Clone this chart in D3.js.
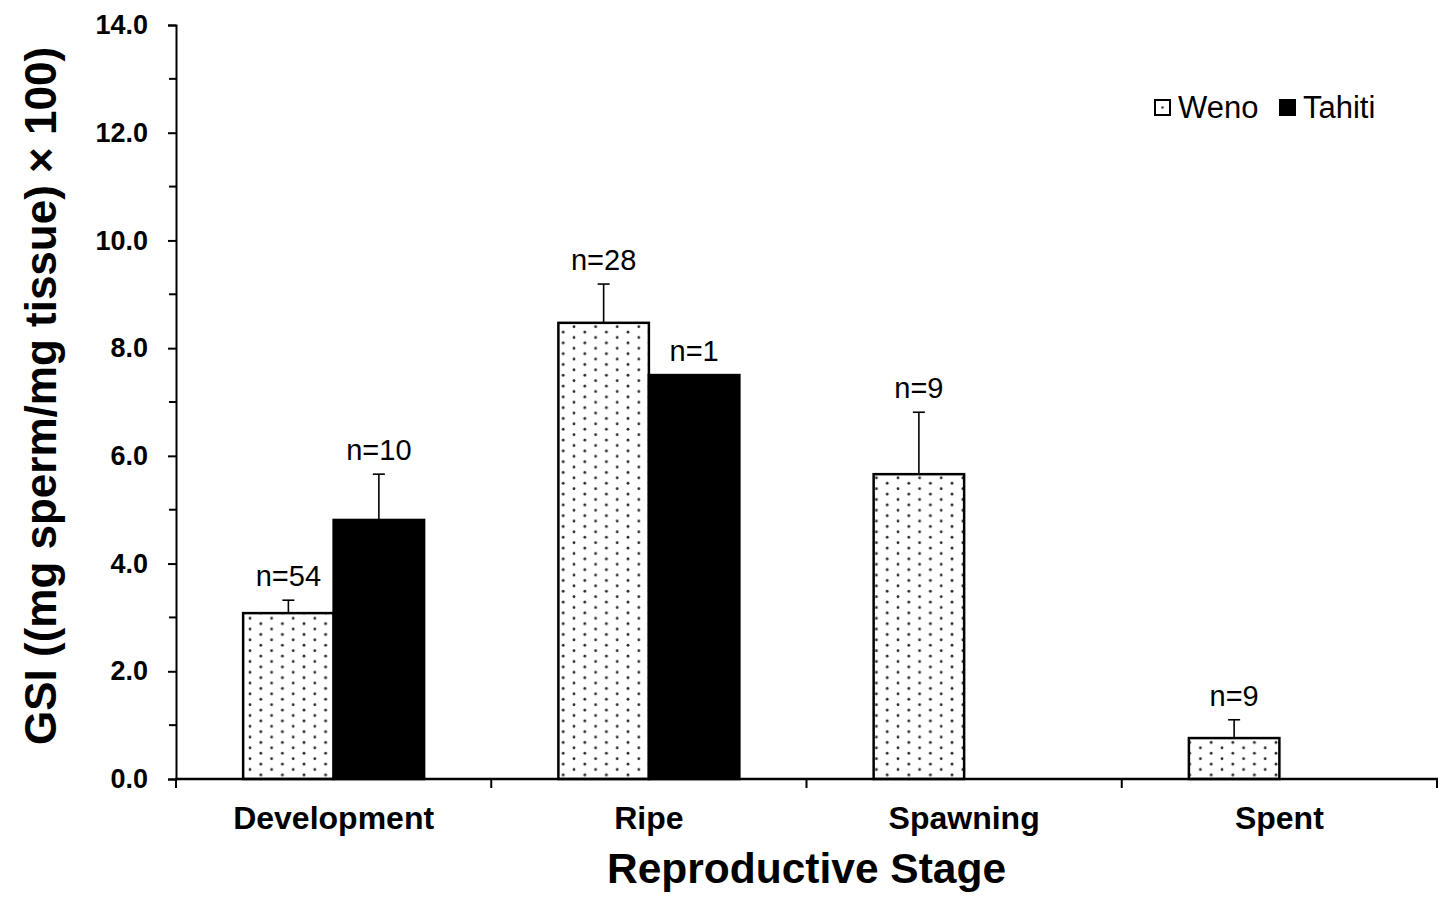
<!DOCTYPE html>
<html>
<head>
<meta charset="utf-8">
<script src="https://cdn.jsdelivr.net/npm/d3@7"></script>
<style>
  body { margin: 0; background: #fff; }
  svg { display: block; font-family: "Liberation Sans", Arial, sans-serif; }
</style>
</head>
<body>
<svg id="gsi_plot" width="1443" height="899"></svg>
<script>
// ====================== DATA ======================
const categories = ["Development", "Ripe", "Spawning", "Spent"];
const seriesNames = ["Weno", "Tahiti"];
const wenoMeans = [3.08, 8.47, 5.66, 0.76];
const wenoErr = [0.24, 0.72, 1.15, 0.34];
const wenoN = [54, 28, 9, 9];
const tahitiMeans = [4.81, 7.50, null, null];
const tahitiErr = [0.85, 0, null, null];
const tahitiN = [10, 1, null, null];
const yTicks = [0, 2, 4, 6, 8, 10, 12, 14];
const yMinorTicks = [1, 3, 5, 7, 9, 11, 13];

// ====================== LAYOUT ======================
const plotLeft = 176, plotRight = 1437, plotTop = 25, plotBottom = 779;

const svg = d3.select("#gsi_plot");

// dotted fill used by the Weno bars
const defs = svg.append("defs");
const pat = defs.append("pattern")
  .attr("id", "dots")
  .attr("patternUnits", "userSpaceOnUse")
  .attr("width", 21.6)
  .attr("height", 10.8)
  .attr("x", 250).attr("y", 0);
pat.append("rect").attr("width", 21.6).attr("height", 10.8).attr("fill", "#fff");
pat.append("circle").attr("cx", 0).attr("cy", 2.7).attr("r", 1.4).attr("fill", "#2a2a2a");
pat.append("circle").attr("cx", 21.6).attr("cy", 2.7).attr("r", 1.4).attr("fill", "#2a2a2a");
pat.append("circle").attr("cx", 10.8).attr("cy", 8.1).attr("r", 1.4).attr("fill", "#2a2a2a");

let xScale = d3.scaleBand()
  .domain(categories)
  .range([plotLeft, plotRight])
  .padding(0);

let xSub = d3.scaleBand()
  .domain(seriesNames)
  .range([0, xScale.bandwidth()])
  .paddingInner(0)
  .paddingOuter(0.742);

let yScale = d3.scaleLinear()
  .domain([0, 14])
  .range([plotBottom, plotTop]);

// build rows for each bar
let rows = [];
categories.forEach((c, i) => {
  rows.push({ cat: c, series: "Weno", mean: wenoMeans[i], err: wenoErr[i], n: wenoN[i] });
  if (tahitiMeans[i] !== null) {
    rows.push({ cat: c, series: "Tahiti", mean: tahitiMeans[i], err: tahitiErr[i], n: tahitiN[i] });
  }
});

// bars
svg.append("g")
  .selectAll("rect")
  .data(rows)
  .enter()
  .append("rect")
  .attr("x", d => xScale(d.cat) + xSub(d.series))
  .attr("y", d => yScale(d.mean))
  .attr("width", xSub.bandwidth())
  .attr("height", d => yScale(0) - yScale(d.mean))
  .attr("fill", d => d.series === "Weno" ? "url(#dots)" : "#000")
  .attr("stroke", "#000")
  .attr("stroke-width", 2.5);

// error bars (upper only)
let errRows = rows.filter(d => d.err > 0);
let errG = svg.append("g").attr("stroke", "#000").attr("stroke-width", 1.6);
errG.selectAll("line.stem")
  .data(errRows)
  .enter()
  .append("line")
  .attr("class", "stem")
  .attr("x1", d => xScale(d.cat) + xSub(d.series) + xSub.bandwidth() / 2)
  .attr("x2", d => xScale(d.cat) + xSub(d.series) + xSub.bandwidth() / 2)
  .attr("y1", d => yScale(d.mean))
  .attr("y2", d => yScale(d.mean + d.err));
errG.selectAll("line.cap")
  .data(errRows)
  .enter()
  .append("line")
  .attr("class", "cap")
  .attr("x1", d => xScale(d.cat) + xSub(d.series) + xSub.bandwidth() / 2 - 6)
  .attr("x2", d => xScale(d.cat) + xSub(d.series) + xSub.bandwidth() / 2 + 6)
  .attr("y1", d => yScale(d.mean + d.err))
  .attr("y2", d => yScale(d.mean + d.err));

// n= labels
svg.append("g")
  .selectAll("text")
  .data(rows)
  .enter()
  .append("text")
  .attr("x", d => xScale(d.cat) + xSub(d.series) + xSub.bandwidth() / 2)
  .attr("y", d => yScale(d.mean + d.err) - 14)
  .attr("text-anchor", "middle")
  .style("font-size", "29px")
  .text(d => "n=" + d.n);

// y axis
let yAxis = svg.append("g")
  .attr("transform", `translate(${plotLeft},0)`)
  .call(d3.axisLeft(yScale).tickValues(yTicks).tickFormat(d3.format(".1f")).tickSize(8).tickPadding(20));
yAxis.select(".domain").attr("stroke-width", 2);
yAxis.selectAll(".tick line").attr("stroke-width", 2);
yAxis.selectAll("text")
  .style("font-size", "27px")
  .style("font-weight", "bold")
  .attr("fill", "#000")
  .attr("font-family", null);
yAxis.append("g")
  .selectAll("line")
  .data(yMinorTicks)
  .enter()
  .append("line")
  .attr("x1", -7).attr("x2", 0)
  .attr("y1", d => yScale(d)).attr("y2", d => yScale(d))
  .attr("stroke", "#000").attr("stroke-width", 2);

// x axis: ticks at category boundaries
let xAxisG = svg.append("g");
xAxisG.append("line")
  .attr("x1", plotLeft - 1).attr("x2", plotRight + 1)
  .attr("y1", plotBottom).attr("y2", plotBottom)
  .attr("stroke", "#000").attr("stroke-width", 2.5);
let boundaries = categories.map(c => xScale(c)).concat([xScale(categories[categories.length - 1]) + xScale.bandwidth()]);
xAxisG.selectAll("line.tick")
  .data(boundaries)
  .enter()
  .append("line")
  .attr("class", "tick")
  .attr("x1", d => d).attr("x2", d => d)
  .attr("y1", plotBottom).attr("y2", plotBottom + 9)
  .attr("stroke", "#000").attr("stroke-width", 2);
xAxisG.selectAll("text")
  .data(categories)
  .enter()
  .append("text")
  .attr("x", d => xScale(d) + xScale.bandwidth() / 2)
  .attr("y", 829)
  .attr("text-anchor", "middle")
  .style("font-size", "32px")
  .style("font-weight", "bold")
  .text(d => d);

// axis titles
svg.append("text")
  .attr("x", (plotLeft + plotRight) / 2)
  .attr("y", 883)
  .attr("text-anchor", "middle")
  .style("font-size", "42.5px")
  .style("font-weight", "bold")
  .text("Reproductive Stage");

svg.append("text")
  .attr("transform", `translate(56,${(plotTop + plotBottom) / 2 - 6}) rotate(-90)`)
  .attr("text-anchor", "middle")
  .style("font-size", "44px")
  .style("font-weight", "bold")
  .text("GSI ((mg sperm/mg tissue) \u00d7 100)");

// legend
let legend = svg.append("g").attr("transform", "translate(1154,99)");
let legendItems = [
  { name: seriesNames[0], x: 0, fill: "#fff" },
  { name: seriesNames[1], x: 125, fill: "#000" }
];
let li = legend.selectAll("g").data(legendItems).enter().append("g")
  .attr("transform", d => `translate(${d.x},0)`);
li.append("rect")
  .attr("x", 1).attr("y", 1).attr("width", 15).attr("height", 15)
  .attr("fill", d => d.fill).attr("stroke", "#000").attr("stroke-width", 2);
li.filter(d => d.fill === "#fff").append("circle")
  .attr("cx", 8.5).attr("cy", 8.5).attr("r", 1.3).attr("fill", "#444");
li.append("text")
  .attr("x", 24).attr("y", 19)
  .style("font-size", "31px")
  .text(d => d.name);
</script>
</body>
</html>
